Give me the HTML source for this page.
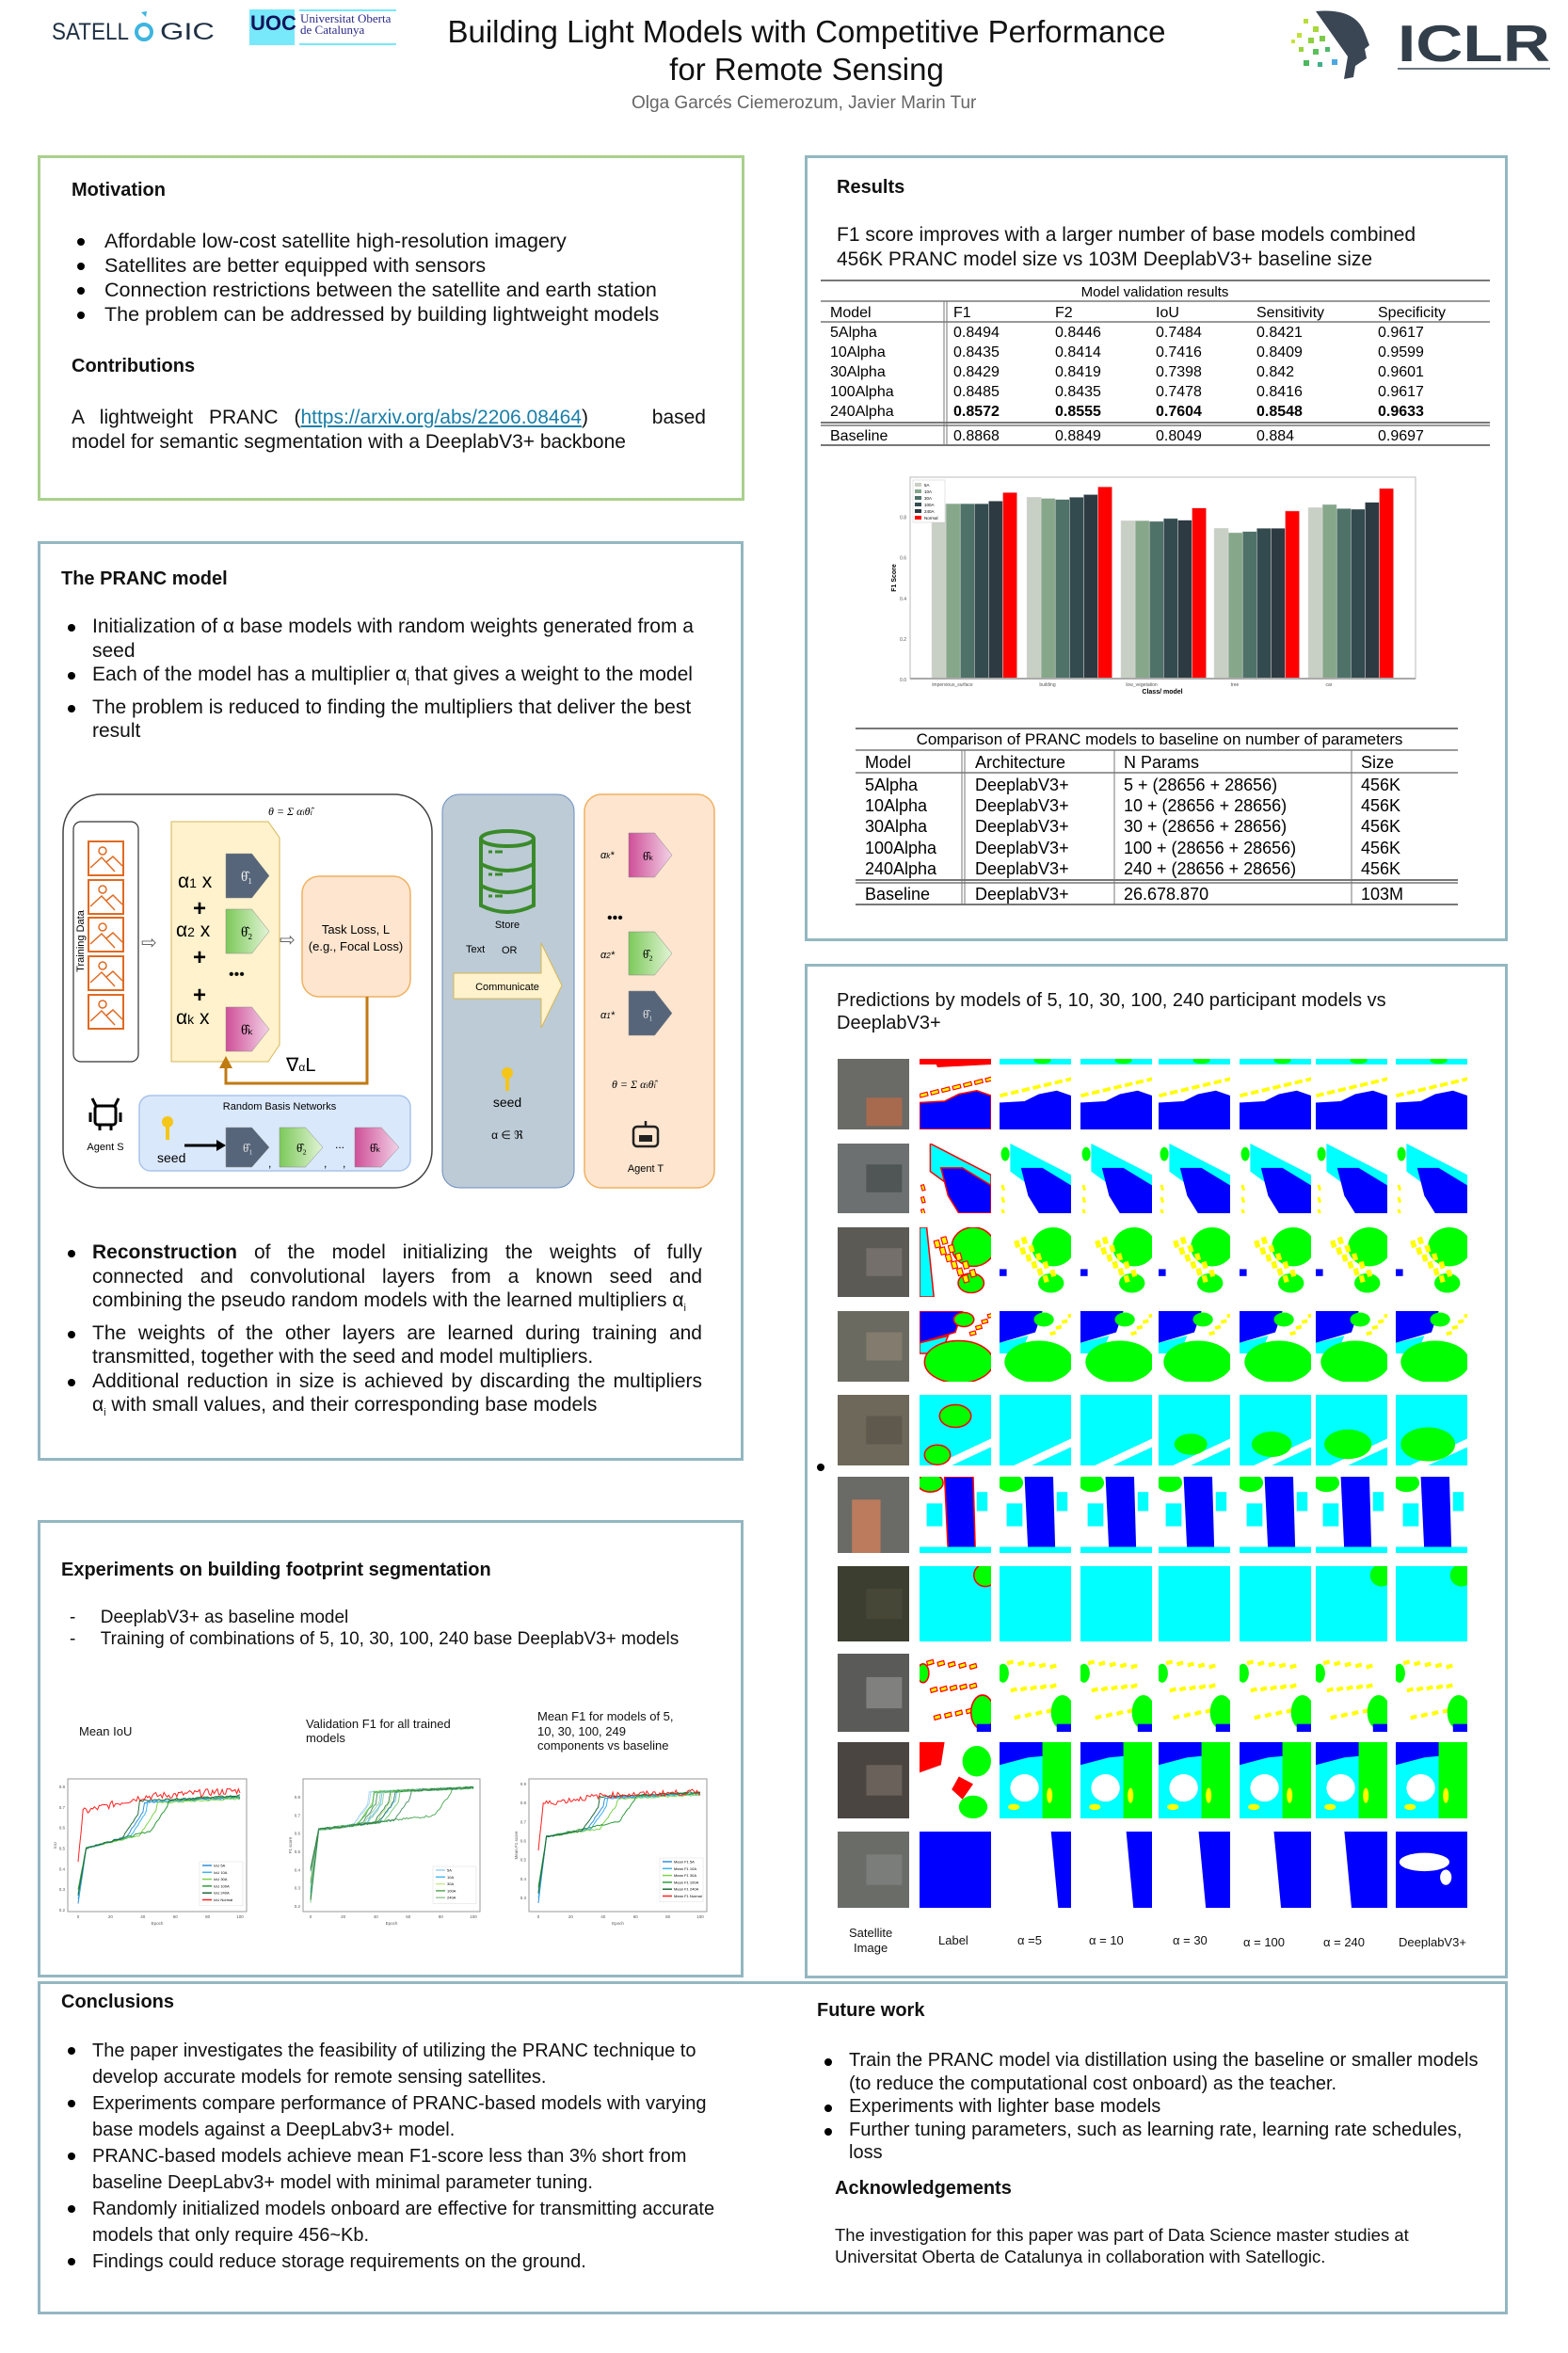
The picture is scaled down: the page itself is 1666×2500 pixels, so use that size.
<!DOCTYPE html>
<html><head><meta charset="utf-8">
<style>
html,body{margin:0;padding:0;background:#fff;}
body{width:1666px;height:2500px;position:relative;overflow:hidden;font-family:"Liberation Sans",Arial,sans-serif;color:#111;}
.a{position:absolute;white-space:nowrap;}
.box{position:absolute;border:3px solid #93b7c1;box-sizing:border-box;}
.h{position:absolute;font-weight:bold;font-size:20px;}
.t{position:absolute;font-size:20px;line-height:26px;}
ul{margin:0;padding:0;list-style:none;}
.bl{position:absolute;}
.bl li{position:relative;padding-left:26px;}
.bl li:before{content:"";position:absolute;left:0;top:10px;width:8px;height:8px;border-radius:50%;background:#000;}
.jl{text-align:justify;text-align-last:justify;white-space:normal;}
</style></head><body>

<!-- header -->
<svg class="a" style="left:0;top:0" width="1666" height="100">
  <text x="55" y="42" font-size="25" fill="#1f3044" textLength="82" lengthAdjust="spacingAndGlyphs">SATELL</text>
  <circle cx="153" cy="34" r="8" fill="none" stroke="#3db5e0" stroke-width="4"/>
  <polygon points="150,13 156,12 155,18" fill="#3db5e0"/>
  <text x="170" y="42" font-size="25" fill="#1f3044" textLength="58" lengthAdjust="spacingAndGlyphs">GIC</text>
  <rect x="265" y="10" width="48" height="38" fill="#78e8fb"/>
  <text x="266" y="32" font-size="22" font-weight="bold" fill="#14145a">UOC</text>
  <line x1="318" y1="11" x2="421" y2="11" stroke="#78e8fb" stroke-width="2"/>
  <line x1="318" y1="47" x2="421" y2="47" stroke="#78e8fb" stroke-width="2"/>
  <text x="319" y="24" font-size="13" fill="#2a2a8a" font-family="Liberation Serif">Universitat Oberta</text>
  <text x="319" y="36" font-size="13" fill="#2a2a8a" font-family="Liberation Serif">de Catalunya</text>
  <path d="M1398,12 Q1440,8 1450,35 L1455,48 L1450,52 L1452,62 L1440,70 L1438,82 L1428,84 L1432,60 Z" fill="#3a4654"/>
  <g>
    <rect x="1385" y="20" width="5" height="5" fill="#b6dd3a"/><rect x="1395" y="28" width="6" height="6" fill="#a8d83a"/>
    <rect x="1378" y="35" width="5" height="5" fill="#c0e03a"/><rect x="1390" y="40" width="6" height="6" fill="#8fd040"/>
    <rect x="1402" y="38" width="6" height="6" fill="#7cc84a"/><rect x="1380" y="50" width="5" height="5" fill="#9ad23c"/>
    <rect x="1395" y="52" width="6" height="6" fill="#5cbf5a"/><rect x="1408" y="50" width="5" height="5" fill="#4db86a"/>
    <rect x="1385" y="64" width="6" height="6" fill="#4cb85c"/><rect x="1400" y="66" width="5" height="5" fill="#3fb08a"/>
    <rect x="1415" y="63" width="6" height="6" fill="#4aa8e0"/><rect x="1372" y="42" width="4" height="4" fill="#c8e040"/>
  </g>
  <text x="1485" y="65" font-size="55" font-weight="bold" fill="#323e4a" textLength="162" lengthAdjust="spacingAndGlyphs">ICLR</text>
  <line x1="1485" y1="73" x2="1647" y2="73" stroke="#6a7480" stroke-width="2"/>
  <text x="857" y="45" font-size="33" text-anchor="middle" fill="#111">Building Light Models with Competitive Performance</text>
  <text x="857" y="85" font-size="33" text-anchor="middle" fill="#111">for Remote Sensing</text>
</svg>
<div class="a" style="left:671px;top:99px;font-size:19px;color:#666;">Olga Garcés Ciemerozum, Javier Marin Tur</div>

<!-- Motivation -->
<div class="box" style="left:40px;top:165px;width:751px;height:367px;border-color:#a9d08c;"></div>
<div class="h" style="left:76px;top:191px;">Motivation</div>
<ul class="bl t" style="left:82px;top:243px;font-size:21.5px;">
<li style="padding-left:29px">Affordable low-cost satellite high-resolution imagery</li>
<li style="padding-left:29px">Satellites are better equipped with sensors</li>
<li style="padding-left:29px">Connection restrictions between the satellite and earth station</li>
<li style="padding-left:29px">The problem can be addressed by building lightweight models</li>
</ul>
<div class="h" style="left:76px;top:378px;">Contributions</div>
<div class="t jl" style="left:76px;top:431px;width:674px;font-size:21px;">A lightweight PRANC (<span style="color:#1a7fa8;text-decoration:underline">https://arxiv.org/abs/2206.08464</span>)&nbsp;&nbsp;&nbsp;&nbsp;based</div>
<div class="t" style="left:76px;top:457px;font-size:21px;">model for semantic segmentation with a DeeplabV3+ backbone</div>

<!-- Results -->
<div class="box" style="left:855px;top:165px;width:747px;height:835px;"></div>
<div class="h" style="left:889px;top:188px;">Results</div>
<div class="t" style="left:889px;top:237px;font-size:21px;">F1 score improves with a larger number of base models combined<br>456K PRANC model size vs 103M DeeplabV3+ baseline size</div>

<!-- PRANC -->
<div class="box" style="left:40px;top:575px;width:750px;height:977px;"></div>
<div class="h" style="left:65px;top:604px;">The PRANC model</div>
<ul class="bl t" style="left:72px;top:653px;width:680px;white-space:normal;line-height:25.5px;font-size:21px;">
<li>Initialization of α base models with random weights generated from a seed</li>
<li>Each of the model has a multiplier α<sub style="font-size:11px">i</sub> that gives a weight to the model</li>
<li>The problem is reduced to finding the multipliers that deliver the best result</li>
</ul>
<ul class="bl t" style="left:72px;top:1318px;width:674px;line-height:25.5px;font-size:21px;">
<li><div class="jl"><b>Reconstruction</b> of the model initializing the weights of fully</div><div class="jl">connected and convolutional layers from a known seed and</div><div>combining the pseudo random models with the learned multipliers α<sub style="font-size:11px">i</sub></div></li>
<li><div class="jl">The weights of the other layers are learned during training and</div><div>transmitted, together with the seed and model multipliers.</div></li>
<li><div class="jl">Additional reduction in size is achieved by discarding the multipliers</div><div>α<sub style="font-size:11px">i</sub> with small values, and their corresponding base models</div></li>
</ul>

<!-- Experiments -->
<div class="box" style="left:40px;top:1615px;width:750px;height:486px;"></div>
<div class="h" style="left:65px;top:1657px;">Experiments on building footprint segmentation</div>
<div class="t" style="left:74px;top:1707px;line-height:23px;font-size:19px;">-&nbsp;&nbsp;&nbsp;&nbsp;&nbsp;DeeplabV3+ as baseline model<br>-&nbsp;&nbsp;&nbsp;&nbsp;&nbsp;Training of combinations of 5, 10, 30, 100, 240 base DeeplabV3+ models</div>
<div class="a" style="left:84px;top:1832px;font-size:13px;">Mean IoU</div>
<div class="a" style="left:325px;top:1824px;font-size:13px;line-height:15px;">Validation F1 for all trained<br>models</div>
<div class="a" style="left:571px;top:1816px;font-size:13px;line-height:15.5px;">Mean F1 for models of 5,<br>10, 30, 100, 249<br>components vs baseline</div>

<!-- Predictions -->
<div class="box" style="left:855px;top:1024px;width:747px;height:1078px;"></div>
<div class="t" style="left:889px;top:1051px;line-height:24px;">Predictions by models of 5, 10, 30, 100, 240 participant models vs<br>DeeplabV3+</div>
<div class="a" style="left:868px;top:1555px;width:8px;height:8px;border-radius:50%;background:#000"></div>
<div id="grid"></div>
<div class="a" style="left:902px;top:2046px;font-size:13px;line-height:16px;text-align:center;">Satellite<br>Image</div>
<div class="a" style="left:997px;top:2054px;font-size:13px;">Label</div>
<div class="a" style="left:1081px;top:2054px;font-size:13px;">α =5</div>
<div class="a" style="left:1157px;top:2054px;font-size:13px;">α = 10</div>
<div class="a" style="left:1246px;top:2054px;font-size:13px;">α = 30</div>
<div class="a" style="left:1321px;top:2056px;font-size:13px;">α = 100</div>
<div class="a" style="left:1406px;top:2056px;font-size:13px;">α = 240</div>
<div class="a" style="left:1486px;top:2056px;font-size:13px;">DeeplabV3+</div>

<!-- Conclusions -->
<div class="box" style="left:40px;top:2105px;width:1562px;height:354px;"></div>
<div class="h" style="left:65px;top:2116px;">Conclusions</div>
<ul class="bl t" style="left:72px;top:2165px;width:705px;white-space:normal;font-size:20px;line-height:28px;">
<li>The paper investigates the feasibility of utilizing the PRANC technique to develop accurate models for remote sensing satellites.</li>
<li>Experiments compare performance of PRANC-based models with varying base models against a DeepLabv3+ model.</li>
<li>PRANC-based models achieve mean F1-score less than 3% short from baseline DeepLabv3+ model with minimal parameter tuning.</li>
<li>Randomly initialized models onboard are effective for transmitting accurate models that only require 456~Kb.</li>
<li>Findings could reduce storage requirements on the ground.</li>
</ul>
<div class="h" style="left:868px;top:2125px;">Future work</div>
<ul class="bl t" style="left:876px;top:2177px;width:700px;white-space:normal;font-size:20px;line-height:24.5px;">
<li>Train the PRANC model via distillation using the baseline or smaller models (to reduce the computational cost onboard) as the teacher.</li>
<li>Experiments with lighter base models</li>
<li>Further tuning parameters, such as learning rate, learning rate schedules, loss</li>
</ul>
<div class="h" style="left:887px;top:2314px;">Acknowledgements</div>
<div class="t" style="left:887px;top:2363px;font-size:18.5px;line-height:23px;">The investigation for this paper was part of Data Science master studies at<br>Universitat Oberta de Catalunya in collaboration with Satellogic.</div>

<svg id="g" class="a" style="left:0;top:0" width="1666" height="2500" font-family="Liberation Sans, Arial, sans-serif"></svg>

<script>
var S='';
function tx(x,y,s,fs,o){o=o||'';S+='<text x="'+x+'" y="'+y+'" font-size="'+fs+'" '+o+'>'+s+'</text>';}
function ln(x1,y1,x2,y2,c,w){S+='<line x1="'+x1+'" y1="'+y1+'" x2="'+x2+'" y2="'+y2+'" stroke="'+(c||'#555')+'" stroke-width="'+(w||1)+'"/>';}
(function(){
 var L=872,R=1583;
 ln(L,298,R,298,'#777',2);tx(1227,315,'Model validation results',15,'text-anchor="middle"');
 ln(L,320,R,320,'#999',2);ln(L,342,R,342,'#999',2);ln(L,449,R,449,'#777',2);ln(L,452,R,452,'#777',1.5);ln(L,473,R,473,'#777',2);
 ln(1003,320,1003,473,'#777',1);ln(1006,320,1006,473,'#777',1);
 var cx=[882,1013,1121,1228,1335,1464];
 ['Model','F1','F2','IoU','Sensitivity','Specificity'].forEach(function(h,i){tx(cx[i],337,h,16);});
 var rows=[['5Alpha','0.8494','0.8446','0.7484','0.8421','0.9617'],['10Alpha','0.8435','0.8414','0.7416','0.8409','0.9599'],['30Alpha','0.8429','0.8419','0.7398','0.842','0.9601'],['100Alpha','0.8485','0.8435','0.7478','0.8416','0.9617'],['240Alpha','0.8572','0.8555','0.7604','0.8548','0.9633']];
 var ys=[358,379,400,421,442];
 rows.forEach(function(r,j){r.forEach(function(c,i){tx(cx[i],ys[j],c,16,(j==4&&i>0)?'font-weight="bold"':'');});});
 ['Baseline','0.8868','0.8849','0.8049','0.884','0.9697'].forEach(function(c,i){tx(cx[i],468,c,16);});
})();
(function(){
 S+='<rect x="967" y="507" width="537" height="214" fill="#fff" stroke="#bbb"/>';
 var cols=['#c8cfc4','#86a78a','#4e7268','#334b4e','#2d3a42','#ff0000'];
 var v=[[.86,.862,.862,.862,.875,.917],[.894,.888,.883,.894,.907,.945],[.778,.778,.775,.789,.781,.841],[.741,.719,.725,.741,.741,.826],[.843,.858,.838,.835,.869,.937]];
 var gx=[990,1091,1191,1290,1390];
 v.forEach(function(g,i){g.forEach(function(val,k){var h=val*215.6;S+='<rect x="'+(gx[i]+k*15.1)+'" y="'+(721-h)+'" width="15.1" height="'+h+'" fill="'+cols[k]+'" stroke="#ddd" stroke-width="0.5"/>';});});
 ln(967,721,1504,721,'#aaa',2);
 [0,.2,.4,.6,.8].forEach(function(t){tx(963,724-t*215.6,t.toFixed(1),5,'text-anchor="end" fill="#555"');});
 ['impervious_surface','building','low_vegetation','tree','car'].forEach(function(n,i){tx(gx[i]+22,729,n,5,'text-anchor="middle" fill="#555"');});
 tx(1235,737,'Class/ model',7,'text-anchor="middle" font-weight="bold"');
 tx(952,614,'F1 Score',7,'text-anchor="middle" font-weight="bold" transform="rotate(-90 952 614)"');
 S+='<rect x="970" y="510" width="34" height="45" fill="#fff" stroke="#ccc" stroke-width=".5"/>';
 ['5A','10A','30A','100A','240A','Normal'].forEach(function(n,k){S+='<rect x="972" y="'+(513+k*7)+'" width="7" height="4" fill="'+cols[k]+'"/>';tx(982,517+k*7,n,4.5);});
})();
(function(){
 var L=909,R=1549;
 ln(L,774,R,774,'#777',2);tx(1232,791,'Comparison of PRANC models to baseline on number of parameters',17,'text-anchor="middle"');
 ln(L,797,R,797,'#999',2);ln(L,821,R,821,'#999',2);ln(L,935,R,935,'#777',2);ln(L,938,R,938,'#777',1.5);ln(L,961,R,961,'#777',2);
 ln(1022,797,1022,961,'#777',1);ln(1025,797,1025,961,'#777',1);ln(1184,797,1184,961,'#777',1);ln(1436,797,1436,961,'#777',1);
 var cx=[919,1036,1194,1446];
 ['Model','Architecture','N Params','Size'].forEach(function(h,i){tx(cx[i],816,h,18);});
 var r=[['5Alpha','5 + (28656 + 28656)'],['10Alpha','10 + (28656 + 28656)'],['30Alpha','30 + (28656 + 28656)'],['100Alpha','100 + (28656 + 28656)'],['240Alpha','240 + (28656 + 28656)']];
 var ys=[840,862,884,907,929];
 r.forEach(function(q,j){tx(cx[0],ys[j],q[0],18);tx(cx[1],ys[j],'DeeplabV3+',18);tx(cx[2],ys[j],q[1],18);tx(cx[3],ys[j],'456K',18);});
 tx(cx[0],956,'Baseline',18);tx(cx[1],956,'DeeplabV3+',18);tx(cx[2],956,'26.678.870',18);tx(cx[3],956,'103M',18);
})();
function pent(a,t,b,bt,fill){var w=b-a,m=(t+bt)/2;S+='<polygon points="'+a+','+t+' '+(a+.6*w)+','+t+' '+b+','+m+' '+(a+.6*w)+','+bt+' '+a+','+bt+'" fill="'+fill+'" stroke="#888" stroke-width=".5"/>';}
(function(){
 S+='<defs><linearGradient id="gg" x1="0" x2="1"><stop offset="0" stop-color="#7cc95a"/><stop offset="1" stop-color="#e2f4d6"/></linearGradient><linearGradient id="pg" x1="0" x2="1"><stop offset="0" stop-color="#cf4f98"/><stop offset="1" stop-color="#f2d2e6"/></linearGradient></defs>';
 S+='<rect x="67" y="844" width="392" height="418" rx="40" fill="#fff" stroke="#444" stroke-width="1.5"/>';
 S+='<rect x="470" y="844" width="140" height="418" rx="18" fill="#bccbd6" stroke="#6c8ebf" stroke-width="1"/>';
 S+='<rect x="621" y="844" width="138" height="418" rx="18" fill="#fde5cf" stroke="#f0b060" stroke-width="1.5"/>';
 S+='<rect x="78" y="873" width="69" height="255" rx="8" fill="#fff" stroke="#333" stroke-width="1.2"/>';
 tx(89,1000,'Training Data',11,'text-anchor="middle" transform="rotate(-90 89 1000)"');
 [894,935,975,1016,1057].forEach(function(y){S+='<rect x="94" y="'+y+'" width="37" height="36" fill="#fff" stroke="#e06a20" stroke-width="2"/><circle cx="109" cy="'+(y+10)+'" r="4" fill="none" stroke="#e06a20" stroke-width="1.5"/><polyline points="96,'+(y+28)+' 108,'+(y+17)+' 122,'+(y+32)+'" fill="none" stroke="#e06a20" stroke-width="1.5"/><polyline points="113,'+(y+22)+' 120,'+(y+16)+' 130,'+(y+26)+'" fill="none" stroke="#e06a20" stroke-width="1.5"/>';});
 S+='<polygon points="182,873 285,873 297,890 297,1110 285,1128 182,1128" fill="#fff2cc" stroke="#d6b656" stroke-width="1"/>';
 tx(150,1008,'⇨',20,'fill="#666"');tx(297,1005,'⇨',20,'fill="#666"');
 tx(189,943,'α<tspan font-size="14">1</tspan> x',21);tx(205,973,'+',24,'font-weight="bold"');
 tx(187,995,'α<tspan font-size="14">2</tspan> x',21);tx(205,1025,'+',24,'font-weight="bold"');
 tx(243,1040,'•••',16,'fill="#111"');tx(205,1065,'+',24,'font-weight="bold"');
 tx(187,1088,'α<tspan font-size="14">k</tspan>  x',21);
 pent(240,907,286,954,'#56657a');pent(240,966,286,1013,'url(#gg)');pent(240,1070,286,1117,'url(#pg)');
 tx(256,936,'θ̂₁',15,'fill="#eee" font-family="Liberation Serif"');tx(256,995,'θ̂₂',15,'font-family="Liberation Serif"');tx(256,1099,'θ̂ₖ',15,'font-family="Liberation Serif"');
 S+='<rect x="321" y="931" width="115" height="128" rx="18" fill="#fde5cf" stroke="#f0b060" stroke-width="1.5"/>';
 tx(378,992,'Task Loss, L',13,'text-anchor="middle"');tx(378,1010,'(e.g., Focal Loss)',13,'text-anchor="middle"');
 S+='<polyline points="390,1059 390,1151 240,1151 240,1132" fill="none" stroke="#c07a12" stroke-width="3"/><polygon points="233,1135 247,1135 240,1122" fill="#c07a12"/>';
 tx(304,1138,'∇<tspan font-size="12">α</tspan>L',20);
 tx(285,866,'θ = Σ α<tspan font-size="8">i</tspan>θ̂<tspan font-size="8">i</tspan>',12,'font-style="italic" font-family="Liberation Serif"');
 S+='<rect x="148" y="1164" width="288" height="80" rx="12" fill="#dae8fc" stroke="#a9c4eb" stroke-width="1.5"/>';
 tx(297,1179,'Random Basis Networks',11,'text-anchor="middle"');
 S+='<circle cx="178" cy="1192" r="6" fill="#f5c518"/><rect x="176" y="1196" width="4" height="15" fill="#f5c518"/>';
 tx(167,1235,'seed',14);S+='<line x1="196" y1="1217" x2="230" y2="1217" stroke="#000" stroke-width="3"/><polygon points="230,1211 240,1217 230,1223" fill="#000"/>';
 pent(240,1198,286,1240,'#56657a');pent(297,1198,343,1240,'url(#gg)');pent(377,1198,424,1240,'url(#pg)');
 tx(258,1224,'θ̂₁',13,'fill="#ddd" font-family="Liberation Serif"');tx(315,1224,'θ̂₂',13,'font-family="Liberation Serif"');tx(393,1224,'θ̂ₖ',13,'font-family="Liberation Serif"');
 tx(356,1220,'...',12);tx(285,1240,',',12);tx(344,1240,',',12);tx(364,1240,', ',12);
 S+='<rect x="101" y="1175" width="22" height="20" rx="3" fill="none" stroke="#000" stroke-width="3"/><line x1="102" y1="1175" x2="98" y2="1167" stroke="#000" stroke-width="3"/><line x1="122" y1="1175" x2="126" y2="1167" stroke="#000" stroke-width="3"/><line x1="96" y1="1182" x2="96" y2="1192" stroke="#000" stroke-width="3"/><line x1="128" y1="1182" x2="128" y2="1192" stroke="#000" stroke-width="3"/><line x1="106" y1="1195" x2="106" y2="1201" stroke="#000" stroke-width="3"/><line x1="118" y1="1195" x2="118" y2="1201" stroke="#000" stroke-width="3"/>';
 tx(112,1222,'Agent  S',11,'text-anchor="middle"');
 S+='<g fill="none" stroke="#3a8a2a" stroke-width="4"><ellipse cx="539" cy="891" rx="28" ry="8"/><path d="M511,891 V962 Q539,976 567,962 V891"/><path d="M511,918 Q539,932 567,918"/><path d="M511,941 Q539,955 567,941"/></g>';
 S+='<g stroke="#3a8a2a" stroke-width="3"><line x1="519" y1="905" x2="523" y2="905"/><line x1="526" y1="905" x2="534" y2="905"/><line x1="519" y1="929" x2="523" y2="929"/><line x1="526" y1="929" x2="534" y2="929"/><line x1="519" y1="952" x2="523" y2="952"/><line x1="526" y1="952" x2="534" y2="952"/></g>';
 tx(539,986,'Store',11,'text-anchor="middle"');tx(495,1012,'Text',11);tx(533,1013,'OR',11);
 S+='<polygon points="482,1034 575,1034 575,1002 597,1047 575,1092 575,1061 482,1061" fill="#fff2cc" stroke="#d6b656"/>';
 tx(539,1052,'Communicate',11,'text-anchor="middle"');
 S+='<circle cx="539" cy="1140" r="6" fill="#f5c518"/><rect x="537" y="1144" width="4" height="15" fill="#f5c518"/>';
 tx(539,1176,'seed',14,'text-anchor="middle"');tx(539,1210,'α ∈ ℜ',12,'text-anchor="middle"');
 tx(638,912,'α<tspan font-size="8">k</tspan>*',11,'font-style="italic"');pent(668,885,714,932,'url(#pg)');tx(683,914,'θ̂ₖ',13,'font-family="Liberation Serif"');
 tx(645,980,'•••',16);
 tx(638,1018,'α<tspan font-size="8">2</tspan>*',11,'font-style="italic"');pent(668,990,714,1036,'url(#gg)');tx(683,1018,'θ̂₂',13,'font-family="Liberation Serif"');
 tx(638,1082,'α<tspan font-size="8">1</tspan>*',11,'font-style="italic"');pent(668,1053,714,1100,'#56657a');tx(683,1082,'θ̂₁',13,'fill="#ddd" font-family="Liberation Serif"');
 tx(650,1156,'θ = Σ α<tspan font-size="8">i</tspan>θ̂<tspan font-size="8">i</tspan>',12,'font-style="italic" font-family="Liberation Serif"');
 S+='<rect x="673" y="1197" width="26" height="21" rx="4" fill="none" stroke="#222" stroke-width="2.5"/><rect x="679" y="1206" width="14" height="7" fill="#222"/><line x1="686" y1="1197" x2="686" y2="1191" stroke="#222" stroke-width="2.5"/>';
 tx(686,1245,'Agent T',11,'text-anchor="middle"');
})();
var seed=7;function rnd(){seed=(seed*9301+49297)%233280;return seed/233280;}
function chart(fx,fy,x0,x1,v0,v1,yl,xl,ytk,lines,leg,legY){
 var X=function(e){return x0+(x1-x0)*e/100;},Y=function(v){return fy[1]-(v-v0)*(fy[1]-fy[0])/(v1-v0);};
 S+='<rect x="'+fx[0]+'" y="'+fy[2]+'" width="'+(fx[1]-fx[0])+'" height="'+(fy[3]-fy[2])+'" fill="#fff" stroke="#999"/>';
 ytk.forEach(function(t){tx(fx[0]-3,Y(t)+2,t.toFixed(1),4.5,'text-anchor="end" fill="#555"');});
 [0,20,40,60,80,100].forEach(function(t){tx(X(t),fy[3]+7,t,4.5,'text-anchor="middle" fill="#555"');});
 tx((fx[0]+fx[1])/2,fy[3]+14,'Epoch',4.5,'text-anchor="middle" fill="#555"');
 tx(fx[0]-12,(fy[2]+fy[3])/2,yl,4.5,'text-anchor="middle" fill="#555" transform="rotate(-90 '+(fx[0]-12)+' '+((fy[2]+fy[3])/2)+')"');
 lines.forEach(function(L){var p=[];for(var e=0;e<=100;e++){p.push(X(e).toFixed(1)+','+Y(L.f(e)).toFixed(1));}S+='<polyline points="'+p.join(' ')+'" fill="none" stroke="'+L.c+'" stroke-width="1" opacity="'+(L.o||1)+'"/>';});
 if(leg){var ly=legY;S+='<rect x="'+(fx[1]-50)+'" y="'+ly+'" width="46" height="'+(leg.length*7.3+3)+'" fill="#fff" stroke="#ddd" stroke-width=".5"/>';leg.forEach(function(n,i){S+='<line x1="'+(fx[1]-47)+'" x2="'+(fx[1]-37)+'" y1="'+(ly+4+i*7.3)+'" y2="'+(ly+4+i*7.3)+'" stroke="'+n[1]+'" stroke-width="1.5"/>';tx(fx[1]-35,ly+5.5+i*7.3,n[0],4);});}
}
function mk(a,p,j,f,b,n){return function(e){var v; if(e<1)v=a; else if(e<5)v=a+(p-a)*(e/5); else if(e<j)v=p+(e-5)*b; else v=Math.min(f, p+(j-5)*b+(e-j)*0.012); if(e>j+10)v=f-(100-e)*0.0004; return v+(rnd()-.5)*n;};}
var blues=['#2e8fe0','#3bb3f0','#7bd34a','#2f9a3a','#1f6a3a'];
chart([72,262],[1898,2029,1890,2031],83,255,0.2,0.8,'IoU','Epoch',[.2,.3,.4,.5,.6,.7,.8],
 [{c:blues[0],f:mk(.23,.5,30,.745,.0022,.008)},{c:blues[1],f:mk(.25,.5,32,.75,.002,.008)},{c:blues[2],f:mk(.28,.5,38,.74,.0019,.008)},{c:blues[3],f:mk(.3,.5,45,.75,.0021,.008)},{c:blues[4],f:mk(.27,.5,27,.755,.0021,.008)},
  {c:'#ff2020',f:function(e){var v=e<3?.45+e*.073:.67+Math.min(e,40)*.002+Math.max(0,e-40)*.0005;return v+(rnd()-.5)*.035;}}],
 [['IoU 5A',blues[0]],['IoU 10A',blues[1]],['IoU 30A',blues[2]],['IoU 100A',blues[3]],['IoU 240A',blues[4]],['IoU Normal','#ff2020']],1978);
(function(){var ls=[];var cs=['#9fd0f0','#4ab8f0','#a8e070','#2f9a3a','#8ac890','#1f6a3a','#5bc05b','#2a7a4a'];
 for(var i=0;i<16;i++){var j=22+rnd()*30;if(i==3)j=76;ls.push({c:cs[i%8],o:.8,f:mk(.22+rnd()*.2,.62,j,.85,.0011,.012)});}
 chart([322,510],[1909,2025,1890,2031],330,503,0.2,0.8,'F1 score','Epoch',[.2,.3,.4,.5,.6,.7,.8],ls,
 [['5A','#9fd0f0'],['10A','#4ab8f0'],['30A','#c8ec90'],['100A','#5aaa5a'],['240A','#9ac89a']],1983);})();
chart([562,751],[1895,2016,1890,2031],572,744,0.3,0.9,'Mean F1 score','Epoch',[.3,.4,.5,.6,.7,.8,.9],
 [{c:blues[0],f:mk(.27,.62,30,.845,.0015,.008)},{c:blues[1],f:mk(.3,.62,32,.85,.0014,.008)},{c:blues[2],f:mk(.33,.62,38,.84,.0013,.008)},{c:blues[3],f:mk(.35,.62,50,.85,.0018,.008)},{c:blues[4],f:mk(.32,.62,27,.855,.0015,.008)},
  {c:'#ff2020',f:function(e){var v=e<3?.55+e*.08:.79+Math.min(e,40)*.0012+Math.max(0,e-40)*.0003;return v+(rnd()-.5)*.03;}}],
 [['Mean F1 5A',blues[0]],['Mean F1 10A',blues[1]],['Mean F1 30A',blues[2]],['Mean F1 100A',blues[3]],['Mean F1 240A',blues[4]],['Mean F1 Normal','#ff2020']],1974);
document.getElementById('g').innerHTML=S;

var B='#0000ff',C='#00ffff',G='#00ff00',Yl='#ffff00',Rd='#ff0000',W='#ffffff';
function r(x,y,w,h,c){return '<rect x="'+x+'" y="'+y+'" width="'+w+'" height="'+h+'" fill="'+c+'"/>';}
function pg(p,c,s){return '<polygon points="'+p+'" fill="'+c+'"'+(s?' stroke="'+Rd+'" stroke-width="2"':'')+'/>';}
function el(x,y,a,b,c,s){return '<ellipse cx="'+x+'" cy="'+y+'" rx="'+a+'" ry="'+b+'" fill="'+c+'"'+(s?' stroke="'+Rd+'" stroke-width="2"':'')+'/>';}
function dashes(x0,y0,x1,y1,n,w,h,c,s){var o='';for(var i=0;i<n;i++){var x=x0+(x1-x0)*i/(n-1),y=y0+(y1-y0)*i/(n-1);o+='<rect x="'+x+'" y="'+y+'" width="'+w+'" height="'+h+'" fill="'+c+'"'+(s?' stroke="'+Rd+'" stroke-width="1.5"':'')+' transform="rotate(-15 '+x+' '+y+')"/>';}return o;}
function cell(row,col){
 var L=col==0,o='';
 switch(row){
 case 0:o=r(0,0,100,100,W)+r(0,0,100,8,L?Rd:C)+(L?'':el(60,2,12,5,G))+pg('0,62 35,60 55,50 80,45 100,52 100,100 0,100',B,L)+dashes(0,50,92,28,7,11,5,Yl,L)+(L?pg('20,0 100,0 100,8 25,12',Rd):'');break;
 case 1:o=r(0,0,100,100,W)+pg('15,0 100,45 100,100 70,100 35,55 15,40',C,L)+pg('30,35 60,35 100,60 100,100 55,100 40,75',B,L)+(L?'':el(8,15,6,10,G))+dashes(2,60,2,95,3,4,8,Yl,L);break;
 case 2:o=r(0,0,100,100,W)+el(75,28,30,28,G,L)+el(72,80,18,14,G,L)+dashes(20,20,60,70,6,7,10,Yl,L)+dashes(30,15,70,62,5,7,10,Yl,L)+(L?pg('0,0 10,0 20,100 0,100',C,1):r(0,60,10,10,B));break;
 case 3:o=r(0,0,100,100,W)+pg('0,0 60,0 50,30 0,45',B,L)+pg('0,45 40,35 30,60 0,60',C,L)+el(55,72,48,30,G,L)+el(62,12,14,10,G,L)+dashes(70,30,95,5,4,8,5,Yl,L);break;
 case 4:o=r(0,0,100,100,C)+pg('20,100 100,62 100,74 45,100',W)+(L?el(50,30,22,16,G,1)+el(25,85,18,14,G,1):(col>2?el(45,70,8+col*5,6+col*3,G):''));break;
 case 5:o=r(0,0,100,100,W)+el(15,8,18,12,G,L)+pg('35,0 75,0 78,100 40,100',B,L)+r(10,35,22,30,C)+r(80,20,15,25,C)+r(0,92,100,8,C);break;
 case 6:o=r(0,0,100,100,C)+((L||col>=5)?el(92,12,16,15,G,L):'');break;
 case 7:o=r(0,0,100,100,W)+dashes(10,10,70,15,5,9,5,Yl,L)+dashes(15,45,70,40,5,9,5,Yl,L)+dashes(20,80,65,72,4,9,5,Yl,L)+el(88,75,16,22,G,L)+el(5,25,8,12,G,L)+r(80,90,20,10,B);break;
 case 8:o=(L?r(0,0,100,100,W)+pg('0,0 35,0 30,30 0,40',Rd)+el(80,25,20,20,G)+el(75,85,20,15,G)+pg('55,45 75,55 60,75 45,62',Rd):r(0,0,100,100,C)+pg('0,0 100,0 100,15 40,20 0,30',B)+pg('60,0 100,0 100,100 60,100',G)+el(35,60,20,18,W)+el(70,70,4,10,Yl)+el(20,85,8,4,Yl));break;
 case 9:o=(L?r(0,0,100,100,B):(col==6?r(0,0,100,100,B)+el(40,40,35,12,W)+el(70,60,8,10,W):r(0,0,100,100,W)+pg((40+(5-col)*8)+',0 100,0 100,100 '+(50+(5-col)*8)+',100',B)));break;
 }
 return '<svg width="76" height="'+H+'" viewBox="0 0 100 100" preserveAspectRatio="none" style="position:absolute;left:'+X+'px;top:'+Yp+'px">'+o+'</svg>';
}
var cx=[890,977,1062,1148,1231,1317,1398,1483],ry=[1125,1215,1304,1393,1482,1569,1664,1757,1851,1946],rh=[75,74,74,75,75,81,80,83,81,81];
var sat=[['#6a6a66','#b86a48'],['#6c7070','#4a5050'],['#5c5a55','#7a7470'],['#6a6a60','#8a8070'],['#6e685a','#5a5548'],['#6a6a66','#d0805a'],['#3c3e30','#4a4a3a'],['#5a5a58','#8a8a88'],['#4a4540','#706860'],['#6a6c68','#808280']];
var html='',X,Yp,H;
for(var i=0;i<10;i++){H=rh[i];Yp=ry[i];
 X=cx[0];html+='<svg width="76" height="'+H+'" viewBox="0 0 100 100" preserveAspectRatio="none" style="position:absolute;left:'+X+'px;top:'+Yp+'px"><rect width="100" height="100" fill="'+sat[i][0]+'"/><rect x="'+(i==5?20:40)+'" y="'+(i==0?55:30)+'" width="'+(i==5?40:50)+'" height="'+(i==5?100:40)+'" fill="'+sat[i][1]+'" opacity=".8"/></svg>';
 for(var c=0;c<7;c++){X=cx[c+1];html+=cell(i,c);}
}
document.getElementById('grid').innerHTML=html;
</script>
</body></html>
